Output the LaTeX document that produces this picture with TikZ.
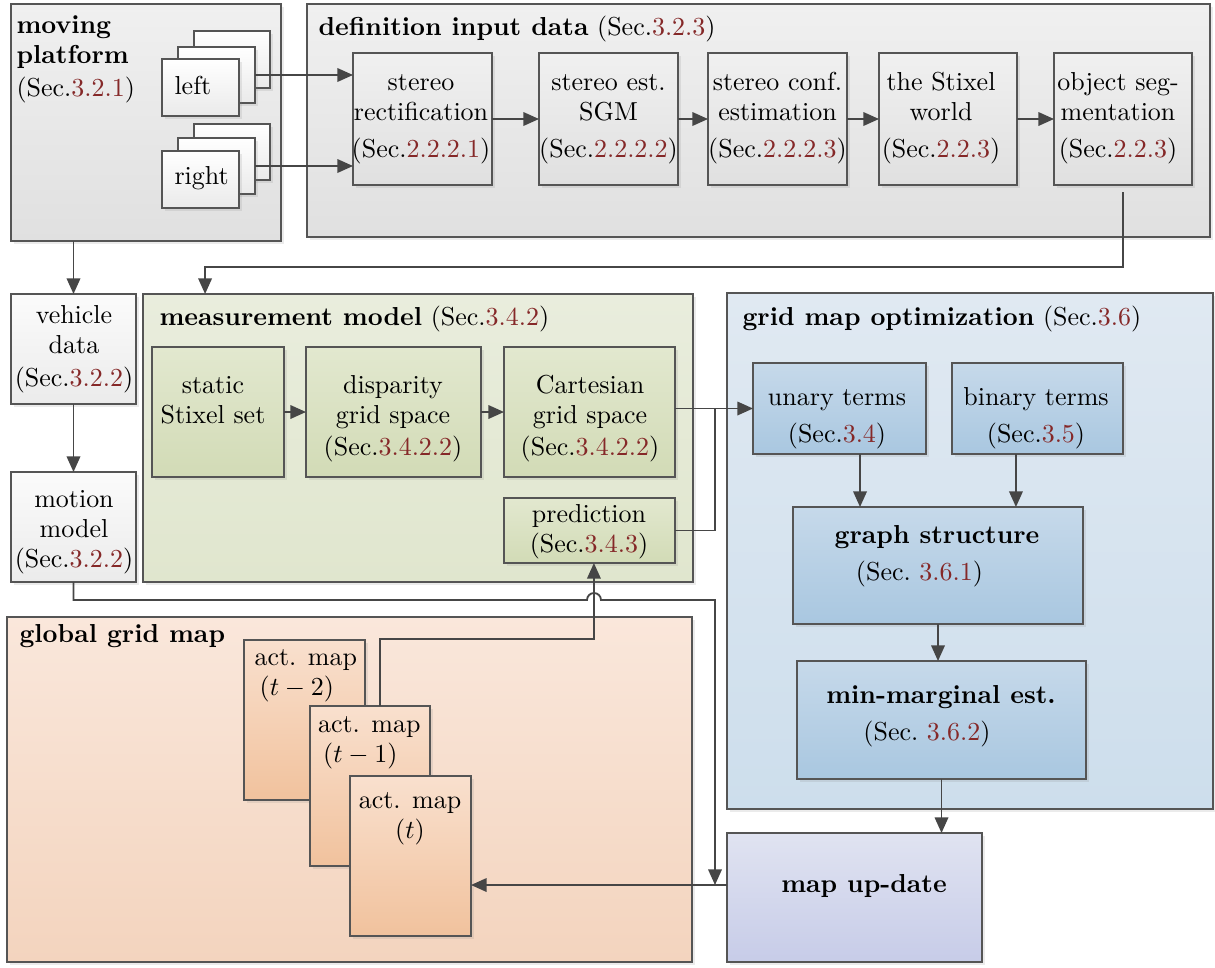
\documentclass[tikz,border=0pt]{standalone}
\usetikzlibrary{arrows.meta,shadows,calc}

\definecolor{bordc}{HTML}{555555}
\definecolor{linec}{HTML}{464646}
\definecolor{lnkc}{HTML}{852828}
\definecolor{grayT}{HTML}{F0F0F0}
\definecolor{grayB}{HTML}{E0E0E0}
\definecolor{cardB}{HTML}{EAEAEA}
\definecolor{vehT}{HTML}{FBFBFB}
\definecolor{vehB}{HTML}{EBEBEB}
\definecolor{grnCT}{HTML}{E9EDDD}
\definecolor{grnCB}{HTML}{E0E6CE}
\definecolor{grnIT}{HTML}{E2E8CF}
\definecolor{grnIB}{HTML}{D2DBB6}
\definecolor{bluCT}{HTML}{E0E9F2}
\definecolor{bluCB}{HTML}{CDDEEC}
\definecolor{bluIT}{HTML}{C6D9EA}
\definecolor{bluIB}{HTML}{A9C7E0}
\definecolor{lavT}{HTML}{E0E3F1}
\definecolor{lavB}{HTML}{C7CCE8}
\definecolor{pchCT}{HTML}{FAE7DB}
\definecolor{pchCB}{HTML}{F3D4BE}
\definecolor{pchIT}{HTML}{F9E0CE}
\definecolor{pchIB}{HTML}{F1C29D}

\newcommand{\lk}[1]{\textcolor{lnkc}{#1}}
\newcommand{\lnstrut}{\rule{0pt}{8pt}}
% box from its two corners: style, name, x1, y1, x2, y2
\newcommand{\boxat}[6]{\node[#1, minimum width={(#5-#3)*0.385pt}, minimum height={(#6-#4)*0.385pt}] (#2) at ({(#3+#5)/2},{(#4+#6)/2}) {};}

\begin{document}
\begin{tikzpicture}[x=0.385pt, y=-0.385pt,
  font=\fontsize{10}{11.6}\selectfont,
  box/.style={draw=bordc, line width=0.75pt, inner sep=0pt, outer sep=0pt,
    drop shadow={opacity=0.16, shadow xshift=1.1pt, shadow yshift=-1.1pt}},
  graybox/.style={box, top color=grayT, bottom color=grayB},
  cardbox/.style={box, top color=white, bottom color=cardB},
  vehbox/.style={box, top color=vehT, bottom color=vehB},
  grncont/.style={box, top color=grnCT, bottom color=grnCB},
  grnbox/.style={box, top color=grnIT, bottom color=grnIB},
  blucont/.style={box, top color=bluCT, bottom color=bluCB},
  blubox/.style={box, top color=bluIT, bottom color=bluIB},
  lavbox/.style={box, top color=lavT, bottom color=lavB},
  pchcont/.style={box, top color=pchCT, bottom color=pchCB},
  pchbox/.style={box, top color=pchIT, bottom color=pchIB},
  txt/.style={inner sep=0pt, anchor=north, align=center},
  ttl/.style={inner sep=0pt, anchor=base west},
  ln/.style={draw=linec, line width=0.7pt},
  arr/.style={ln, -{Triangle[length=6pt,width=5.2pt]}}]

\useasboundingbox (0,0) rectangle (1215,967);

% containers
\boxat{graybox}{mp}{11}{4}{281}{241}
\boxat{graybox}{def}{307}{4}{1210}{237}
\boxat{grncont}{meas}{143}{294}{693}{582}
\boxat{blucont}{gopt}{727}{293}{1213}{809}
\boxat{pchcont}{glob}{7}{617}{692}{962}

% moving platform: camera image stacks
\boxat{cardbox}{lback}{194}{31}{270}{88}
\boxat{cardbox}{lmid}{178}{47}{255}{103}
\boxat{cardbox}{lfront}{162}{59}{239}{116}
\boxat{cardbox}{rback}{194}{124}{270}{180}
\boxat{cardbox}{rmid}{178}{138}{255}{194}
\boxat{cardbox}{rfront}{162}{151}{239}{208}

% input data chain
\boxat{graybox}{sr}{353}{53}{492}{185}
\boxat{graybox}{sgm}{539}{53}{678}{185}
\boxat{graybox}{conf}{708}{53}{847}{185}
\boxat{graybox}{stx}{879}{53}{1017}{185}
\boxat{graybox}{obj}{1054}{53}{1192}{185}

% vehicle side
\boxat{vehbox}{veh}{11}{294}{136}{404}
\boxat{vehbox}{mot}{11}{472}{136}{582}

% measurement model
\boxat{grnbox}{stat}{152}{347}{284}{477}
\boxat{grnbox}{disp}{306}{347}{481}{477}
\boxat{grnbox}{cart}{504}{347}{675}{477}
\boxat{grnbox}{pred}{504}{498}{675}{563}

% grid map optimization
\boxat{blubox}{un}{753}{363}{926}{454}
\boxat{blubox}{bin}{952}{363}{1123}{454}
\boxat{blubox}{gs}{793}{507}{1083}{624}
\boxat{blubox}{mm}{797}{661}{1086}{779}
\boxat{lavbox}{mu}{727}{833}{982}{962}

% global grid map: activation maps over time
\boxat{pchbox}{t2}{244}{640}{365}{800}
\boxat{pchbox}{t1}{310}{706}{430}{866}
\boxat{pchbox}{t0}{350}{776}{471}{936}

% titles
\node[inner sep=0pt, anchor=north west, align=left] (mp-t) at (16,12.2)
  {\lnstrut\textbf{moving}\\\textbf{platform}\\[1pt](Sec.\lk{3.2.1})};
\node[ttl] (def-t) at (318,35) {\textbf{definition input data} (Sec.\lk{3.2.3})};
\node[ttl] (meas-t) at (159,325) {\textbf{measurement model} (Sec.\lk{3.4.2})};
\node[ttl] (gopt-t) at (742,325) {\textbf{grid map optimization} (Sec.\lk{3.6})};
\node[ttl] (glob-t) at (19,642) {\textbf{global grid map}};

% box texts
\node[ttl] (lfront-t) at (174,94) {left};
\node[ttl] (rfront-t) at (174,184) {right};

\node[txt] (sr-t) at (421,69.2) {\lnstrut stereo\\rectification\\[2.5pt](Sec.\lk{2.2.2.1})};
\node[txt] (sgm-t) at (608.5,69.2) {\lnstrut stereo est.\\SGM\\[2.5pt](Sec.\lk{2.2.2.2})};
\node[txt] (conf-t) at (777.5,69.2) {\lnstrut stereo conf.\\estimation\\[2.5pt](Sec.\lk{2.2.2.3})};
\node[txt] (stx-t) at (941,69.2) {\lnstrut the Stixel\\world\\[2.5pt](Sec.\lk{2.2.3})};
\node[txt] (obj-t) at (1118,69.2) {\lnstrut object seg-\\mentation\\[2.5pt](Sec.\lk{2.2.3})};

\node[txt] (veh-t) at (74,302.2) {\lnstrut vehicle\\data\\[1pt](Sec.\lk{3.2.2})};
\node[txt] (mot-t) at (74,486.2) {\lnstrut motion\\model\\(Sec.\lk{3.2.2})};

\node[txt] (stat-t) at (213,372.2) {\lnstrut static\\Stixel set};
\node[txt] (disp-t) at (393,372.2) {\lnstrut disparity\\grid space\\[0.5pt](Sec.\lk{3.4.2.2})};
\node[txt] (cart-t) at (590,372.2) {\lnstrut Cartesian\\grid space\\[0.5pt](Sec.\lk{3.4.2.2})};
\node[txt] (pred-t) at (589,501.2) {\lnstrut prediction\\(Sec.\lk{3.4.3})};

\node[txt] (un-t) at (837,384.2) {\lnstrut unary terms\\[2.5pt](Sec.\lk{3.4})};
\node[txt] (bin-t) at (1036,384.2) {\lnstrut binary terms\\[2.5pt](Sec.\lk{3.5})};
\node[txt] (gs-t) at (937,522.2) {\lnstrut\textbf{graph structure}\\[2.5pt](Sec.~\lk{3.6.1})\hspace*{13.5pt}};
\node[txt] (mm-t) at (941,682.2) {\lnstrut\textbf{min-marginal est.}\\[2.5pt](Sec.~\lk{3.6.2})\hspace*{10.8pt}};
\node[inner sep=0pt, anchor=base] (mu-t) at (864,892) {\textbf{map up-date}};

\node[inner sep=0pt, anchor=north west, align=left] (t2-t) at (254,644.2) {\lnstrut act. map\\\hspace*{2pt}$(t-2)$};
\node[inner sep=0pt, anchor=north west, align=left] (t1-t) at (317.5,710.9) {\lnstrut act. map\\\hspace*{2pt}$(t-1)$};
\node[txt] (t0-t) at (410,787.2) {\lnstrut act. map\\$(t)$};

% connectors
\draw[arr] (lmid.east) -- (lmid.east -| sr.west);
\draw[arr] (rmid.east) -- (rmid.east -| sr.west);
\draw[arr] (sr.east) -- (sgm.west);
\draw[arr] (sgm.east) -- (conf.west);
\draw[arr] (conf.east) -- (stx.west);
\draw[arr] (stx.east) -- (obj.west);
\draw[arr] ([yshift=-2.7pt]obj.south) -- ++(0,75) -| ([xshift=23.9pt]meas.north west);

\draw[arr] (veh.north |- mp.south) -- (veh.north);
\draw[arr] (veh.south) -- (mot.north);

\draw[arr] (stat.east) -- (disp.west);
\draw[arr] (disp.east) -- (cart.west);
\draw[arr] (cart.east |- un.west) -- (un.west);
\draw[ln] (pred.east) -| ([xshift=-14.6pt]un.west);

\draw[arr] ([xshift=7.9pt]un.south) -- ([xshift=7.9pt]un.south |- gs.north);
\draw[arr] ([xshift=-8.3pt]bin.south) -- ([xshift=-8.3pt]bin.south |- gs.north);
\draw[arr] (gs.south) -- (gs.south |- mm.north);
\draw[arr] (mm.south) -- (mm.south |- mu.north);

% motion model output, hopping over the prediction input
\coordinate (jn) at (715,885);
\draw[arr] (mot.south) -- ++(0,18) -- (587,600)
  arc[start angle=180, end angle=360, radius=7] -- (715,600) -- (jn);
\draw[arr] (mu.west |- jn) -- (t0.east |- jn);

\draw[arr] ([xshift=3.85pt]t1.north) -- ++(0,-67) -| ([xshift=1.7pt]pred.south);

\end{tikzpicture}
\end{document}
